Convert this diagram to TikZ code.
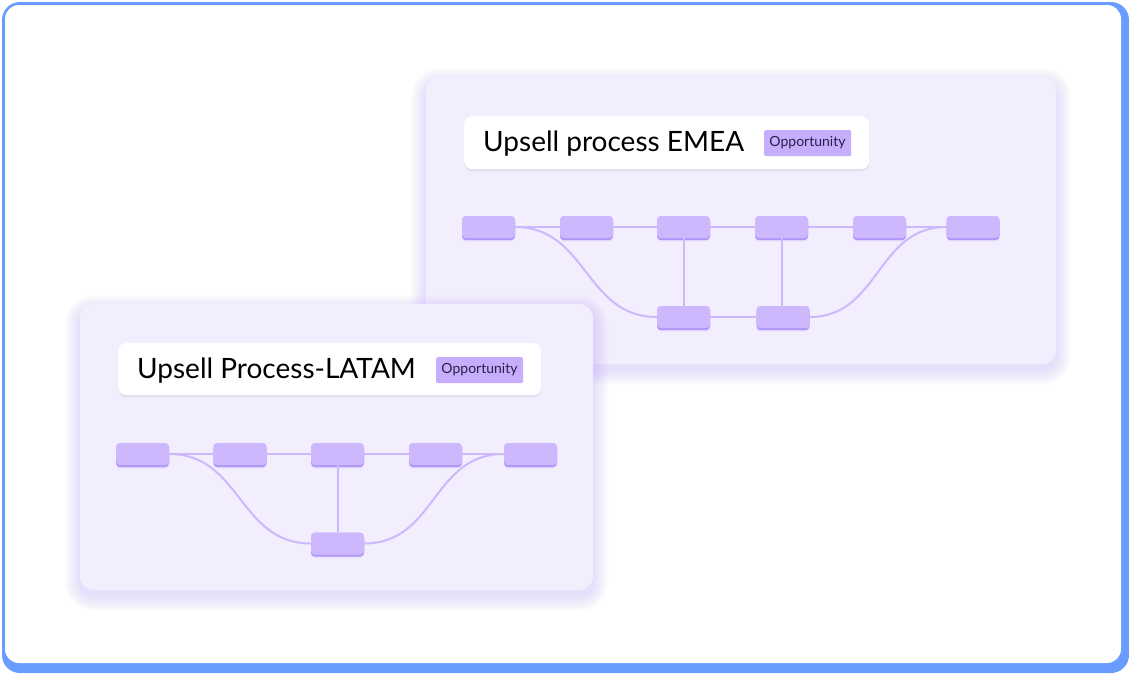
\documentclass[tikz,border=0pt]{standalone}
\usepackage{fontspec}
\setmainfont{Lato}
\definecolor{frameblue}{HTML}{6A9BFF}
\definecolor{panelfill}{HTML}{F2EEFE}
\definecolor{glowc}{HTML}{B49CFA}
\definecolor{nodefill}{HTML}{CDB7FD}
\definecolor{nodeshadow}{HTML}{AD94F7}
\definecolor{linec}{HTML}{CDB8FD}
\definecolor{tagfill}{HTML}{C7AEFC}
\definecolor{tagtext}{HTML}{2A1F4A}
\begin{document}
\begin{tikzpicture}[x=1pt,y=-1pt,
  stepbox/.style={fill=nodefill, rounded corners=4pt, minimum width=53pt, minimum height=22pt, inner sep=0pt,
     preaction={fill=nodeshadow, transform canvas={yshift=-2.2pt}},
     preaction={fill=glowc, opacity=0.18, transform canvas={yshift=-3.5pt}}},
  conn/.style={draw=linec, line width=2pt},
  titlebox/.style={fill=white, rounded corners=8pt, inner sep=0pt, anchor=north west,
     preaction={fill=black, opacity=0.07, transform canvas={yshift=-2pt}}},
  titletext/.style={font=\fontsize{28}{30}\selectfont, text=black, anchor=west, inner sep=0pt},
  tag/.style={fill=tagfill, rounded corners=1.5pt, inner sep=0pt, anchor=north west},
  tagtxt/.style={font=\fontsize{14}{16}\selectfont, text=tagtext, inner sep=0pt}
]
\useasboundingbox (0,0) rectangle (1129,673);
% outer frame
\fill[frameblue, rounded corners=18pt] (2,2) rectangle (1129,673);
\fill[white, rounded corners=14pt] (5,5) rectangle (1121,663);

% ===== EMEA panel =====
\foreach \i in {1,...,10}
  \fill[glowc, opacity=0.03, rounded corners={(14+1.5*\i)*1pt}]
    ({426-1.5*\i},{77-1.5*\i+6}) rectangle ({1056+1.5*\i},{364+1.5*\i+6});
\fill[panelfill, rounded corners=14pt] (426,77) rectangle (1056,364);

\node[titlebox, minimum width=405pt, minimum height=53pt] (et) at (464,116) {};
\node[titletext] (ett) at (483,144) {Upsell process EMEA};
\node[tag, minimum width=87pt, minimum height=26pt] (etag) at (764,130) {};
\node[tagtxt] (etagt) at (807.5,143) {Opportunity};

\node[stepbox] (e1) at (488.5,227) {};
\node[stepbox] (e2) at (586.5,227) {};
\node[stepbox] (e3) at (683.5,227) {};
\node[stepbox] (e4) at (781.5,227) {};
\node[stepbox] (e5) at (879.5,227) {};
\node[stepbox] (e6) at (973,227) {};
\node[stepbox] (eb1) at (683.5,317) {};
\node[stepbox] (eb2) at (783,317) {};

\draw[conn] (e1.east) -- (e2.west);
\draw[conn] (e2.east) -- (e3.west);
\draw[conn] (e3.east) -- (e4.west);
\draw[conn] (e4.east) -- (e5.west);
\draw[conn] (e5.east) -- (e6.west);
\draw[conn] (e1.east) .. controls +(72,0) and +(-72,0) .. (eb1.west);
\draw[conn] (e3.south) -- (eb1.north);
\draw[conn] ([xshift=0.5pt]e4.south) -- ([xshift=-1pt]eb2.north);
\draw[conn] (eb1.east) -- (eb2.west);
\draw[conn] (eb2.east) .. controls +(70,0) and +(-70,0) .. (e6.west);
% redraw boxes over line ends
\foreach \x/\y in {488.5/227,586.5/227,683.5/227,781.5/227,879.5/227,973/227,683.5/317,783/317}
  \fill[nodefill, rounded corners=4pt] ({\x-26.5},{\y-11}) rectangle ({\x+26.5},{\y+11});

% ===== LATAM panel =====
\foreach \i in {1,...,10}
  \fill[glowc, opacity=0.03, rounded corners={(14+1.5*\i)*1pt}]
    ({80-1.5*\i},{304-1.5*\i+6}) rectangle ({593+1.5*\i},{590+1.5*\i+6});
\fill[panelfill, rounded corners=14pt] (80,304) rectangle (593,590);

\node[titlebox, minimum width=423pt, minimum height=52pt] (lt) at (118,343) {};
\node[titletext] (ltt) at (137,370.5) {Upsell Process-LATAM};
\node[tag, minimum width=87pt, minimum height=26pt] (ltag) at (436,357) {};
\node[tagtxt] (ltagt) at (479.5,370) {Opportunity};

\node[stepbox] (l1) at (142.5,454) {};
\node[stepbox] (l2) at (240,454) {};
\node[stepbox] (l3) at (337.5,454) {};
\node[stepbox] (l4) at (435.5,454) {};
\node[stepbox] (l5) at (530.5,454) {};
\node[stepbox] (lb1) at (337.5,543.5) {};

\draw[conn] (l1.east) -- (l2.west);
\draw[conn] (l2.east) -- (l3.west);
\draw[conn] (l3.east) -- (l4.west);
\draw[conn] (l4.east) -- (l5.west);
\draw[conn] (l1.east) .. controls +(72,0) and +(-72,0) .. (lb1.west);
\draw[conn] (l3.south) -- (lb1.north);
\draw[conn] (lb1.east) .. controls +(72,0) and +(-72,0) .. (l5.west);
\foreach \x/\y in {142.5/454,240/454,337.5/454,435.5/454,530.5/454,337.5/543.5}
  \fill[nodefill, rounded corners=4pt] ({\x-26.5},{\y-11}) rectangle ({\x+26.5},{\y+11});
\end{tikzpicture}
\end{document}
